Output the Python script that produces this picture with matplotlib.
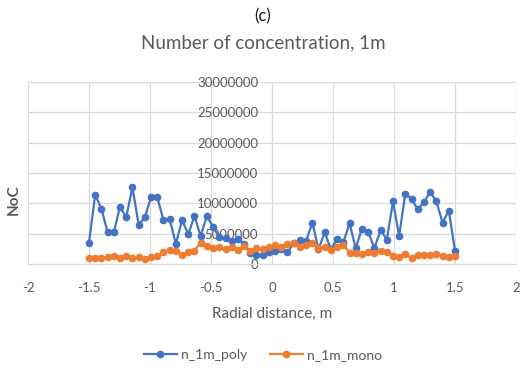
import numpy as np
import matplotlib.pyplot as plt
from matplotlib.ticker import FuncFormatter

plt.rcParams['font.family'] = ['Lato', 'DejaVu Sans']

# Radial sampling positions (m)
radial = [-1.5, -1.449, -1.398, -1.347, -1.297, -1.246, -1.195, -1.144, -1.093, -1.042,
          -0.992, -0.941, -0.89, -0.839, -0.788, -0.737, -0.686, -0.636, -0.585, -0.534,
          -0.483, -0.432, -0.381, -0.331, -0.28, -0.229, -0.178, -0.127, -0.076, -0.025,
          0.025, 0.076, 0.127, 0.178, 0.229, 0.28, 0.331, 0.381, 0.432, 0.483,
          0.534, 0.585, 0.636, 0.686, 0.737, 0.788, 0.839, 0.89, 0.941, 0.992,
          1.042, 1.093, 1.144, 1.195, 1.246, 1.297, 1.347, 1.398, 1.449, 1.5]

# Number concentration, in millions
poly_m = [3.5, 11.4, 9.1, 5.2, 5.2, 9.4, 7.7, 12.6, 6.5, 7.7,
          11.0, 11.0, 7.3, 7.4, 3.3, 7.2, 4.9, 7.9, 4.6, 7.9,
          6.1, 4.4, 4.2, 3.8, 4.1, 3.3, 1.8, 1.4, 1.5, 1.9,
          2.2, 2.4, 1.9, 3.4, 3.9, 3.8, 6.8, 2.4, 5.2, 2.4,
          4.1, 3.6, 6.7, 2.6, 5.8, 5.3, 2.6, 5.6, 4.0, 10.3,
          4.6, 11.6, 10.7, 9.0, 10.2, 11.9, 10.3, 6.8, 8.8, 2.2]
mono_m = [0.94, 1.04, 0.94, 1.2, 1.3, 1.04, 1.37, 0.94, 1.2, 0.82,
          1.2, 1.3, 1.9, 2.3, 2.2, 1.5, 1.9, 2.2, 3.5, 3.0,
          2.6, 2.75, 2.4, 2.75, 2.3, 3.0, 2.2, 2.6, 2.4, 2.85,
          3.1, 2.85, 3.3, 3.4, 2.85, 3.1, 3.4, 2.6, 2.75, 2.3,
          2.75, 3.1, 1.86, 1.86, 1.64, 2.0, 1.86, 2.2, 2.0, 1.3,
          1.2, 1.64, 0.94, 1.5, 1.5, 1.5, 1.64, 1.3, 1.1, 1.3]

x_ticks = [-2, -1.5, -1, -0.5, 0, 0.5, 1, 1.5, 2]
y_ticks = [0, 5e6, 10e6, 15e6, 20e6, 25e6, 30e6]

GRID = '#d9d9d9'
TXT = '#595959'

fig = plt.figure(figsize=(5.26, 3.70), dpi=100)
ax = fig.add_axes([0.0532, 0.2865, 0.9278, 0.4925])

ax.plot(radial, np.array(poly_m) * 1e6, color='#4472c4', lw=1.6, marker='o',
        ms=4.5, label='n_1m_poly', zorder=3)
ax.plot(radial, np.array(mono_m) * 1e6, color='#ed7d31', lw=1.6, marker='o',
        ms=4.5, label='n_1m_mono', zorder=3)

ax.set_xlim(-2, 2)
ax.set_ylim(0, 30e6)
ax.set_xticks(x_ticks)
ax.set_xticklabels([f'{t:g}' for t in x_ticks])
ax.set_yticks(y_ticks)
ax.yaxis.set_major_formatter(FuncFormatter(lambda v, p: f'{int(v)}'))

ax.grid(True, color=GRID, lw=0.9)
ax.set_axisbelow(True)
for s in ['top', 'right']:
    ax.spines[s].set_visible(False)
ax.spines['left'].set_position(('data', 0))
ax.spines['left'].set_visible(False)
ax.spines['bottom'].set_color(GRID)
ax.tick_params(length=0, colors=TXT, labelsize=9.5)
ax.tick_params(axis='y', pad=10)
ax.tick_params(axis='x', pad=13)

ax.set_xlabel('Radial distance, m', color=TXT, fontsize=11, labelpad=9)
fig.text(0.026, 0.46, 'NoC', rotation=90, color=TXT, fontsize=11,
         fontweight='bold', ha='center', va='center')

fig.text(0.5, 0.955, '(c)', ha='center', va='center', fontsize=12, color='#1a1a1a')
fig.text(0.5, 0.883, 'Number of concentration, 1m', ha='center', va='center',
         fontsize=13.5, color=TXT)

fig.legend(loc='center', bbox_to_anchor=(0.5, 0.04), ncol=2, frameon=False,
           fontsize=10, labelcolor=TXT, handlelength=2.4, columnspacing=1.6,
           handletextpad=0.3)

fig.savefig('out.png', dpi=100)
